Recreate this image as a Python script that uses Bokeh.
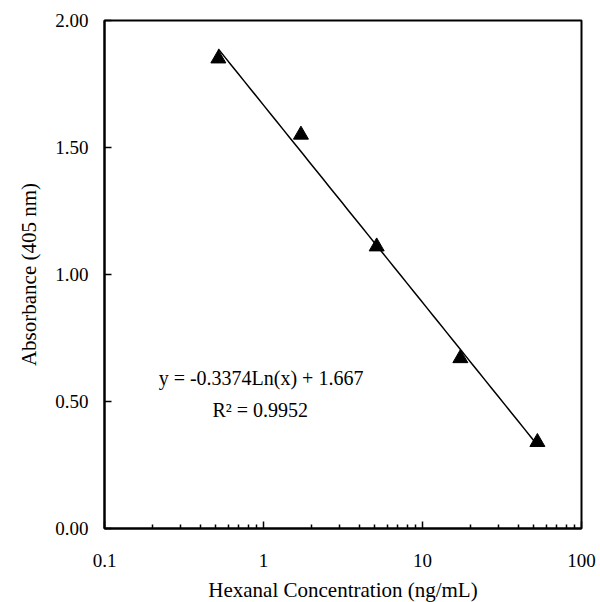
import numpy as np
from bokeh.plotting import figure
from bokeh.models import FixedTicker, NumeralTickFormatter, PrintfTickFormatter, Label, Range1d
from bokeh.embed import file_html
from bokeh.resources import INLINE

# data
conc = [0.52, 1.72, 5.15, 17.3, 52.8]
absorbance = [1.85, 1.55, 1.11, 0.67, 0.34]
slope = -0.3374
intercept = 1.667
x_ticks = [0.1, 1, 10, 100]
x_minor = [0.2, 0.3, 0.4, 0.5, 0.6, 0.7, 0.8, 0.9,
           2, 3, 4, 5, 6, 7, 8, 9,
           20, 30, 40, 50, 60, 70, 80, 90]
y_ticks = [0.0, 0.5, 1.0, 1.5, 2.0]

FONT = "Liberation Serif"

p = figure(width=600, height=602, x_axis_type="log",
           x_range=Range1d(0.1, 100), y_range=Range1d(0, 2),
           output_backend="svg", toolbar_location=None,
           min_border_left=104, min_border_right=19,
           min_border_top=20, min_border_bottom=74)
p.frame_width = 477
p.frame_height = 508

p.background_fill_color = "white"
p.border_fill_color = "white"
p.outline_line_color = "black"
p.outline_line_width = 2
p.xgrid.visible = False
p.ygrid.visible = False

# fit line over the data range
xs = np.geomspace(min(conc), max(conc), 50)
ys = slope * np.log(xs) + intercept
p.line(xs, ys, line_color="black", line_width=1.5)

p.scatter(conc, absorbance, marker="triangle", size=15,
          fill_color="black", line_color="black")

# axes
xa = p.xaxis[0]
xa.ticker = FixedTicker(ticks=x_ticks, minor_ticks=x_minor)
xa.formatter = PrintfTickFormatter(format="%g")
xa.axis_label = "Hexanal Concentration (ng/mL)"
ya = p.yaxis[0]
ya.ticker = FixedTicker(ticks=y_ticks)
ya.formatter = NumeralTickFormatter(format="0.00")
ya.axis_label = "Absorbance (405 nm)"

for ax in (xa, ya):
    ax.axis_line_color = "black"
    ax.axis_line_width = 2
    ax.major_tick_in = 7
    ax.major_tick_out = 0
    ax.minor_tick_in = 4
    ax.minor_tick_out = 0
    ax.major_tick_line_width = 1.5
    ax.minor_tick_line_width = 1.5
    ax.major_tick_line_color = "black"
    ax.minor_tick_line_color = "black"
    ax.major_label_text_font = FONT
    ax.major_label_text_font_size = "19px"
    ax.major_label_text_color = "black"
    ax.axis_label_text_font = FONT
    ax.axis_label_text_font_size = "21px"
    ax.axis_label_text_font_style = "normal"
    ax.axis_label_text_color = "black"

xa.major_label_standoff = 25
xa.axis_label_standoff = 8
ya.major_label_standoff = 16
ya.axis_label_standoff = 11

p.add_layout(Label(x=0.219, y=0.591, text="y = -0.3374Ln(x) + 1.667",
                   text_font=FONT, text_font_size="20px", text_color="black",
                   text_align="left", text_baseline="middle"))
p.add_layout(Label(x=0.477, y=0.465, text="R\u00b2 = 0.9952",
                   text_font=FONT, text_font_size="20px", text_color="black",
                   text_align="left", text_baseline="middle"))

open("out.html", "w").write(file_html(p, INLINE))
